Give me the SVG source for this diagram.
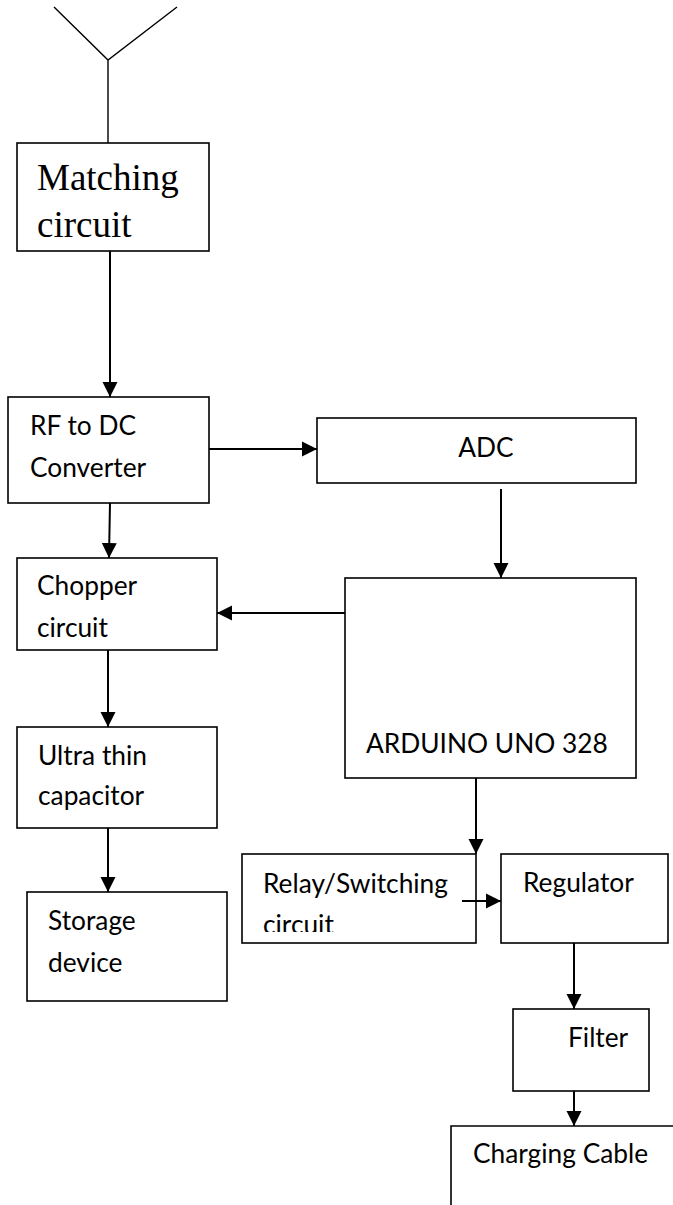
<svg xmlns="http://www.w3.org/2000/svg" width="673" height="1205" viewBox="0 0 673 1205">
<style>
.box{fill:#fff;stroke:#000;stroke-width:1.6}
.t{font-family:Lato,"Liberation Sans",sans-serif;font-size:26.3px;fill:#000}
.ts{font-family:"Liberation Serif","Times New Roman",serif;font-size:37px;fill:#000}
.c{fill:none;stroke:#000;stroke-width:2}
.a{fill:none;stroke:#000;stroke-width:1.4}
</style>
<defs>
<marker id="ah" markerUnits="userSpaceOnUse" markerWidth="16" markerHeight="16" refX="15" refY="8" orient="auto">
<path d="M0,0.5 L15,8 L0,15.5 z" fill="#000"/>
</marker>
<clipPath id="relayclip"><rect x="242" y="854" width="234" height="78"/></clipPath>
</defs>
<rect width="673" height="1205" fill="#fff"/>
<g id="antenna">
<path class="a" d="M54,7 L108,60 L177,7 M108,60 L108,143"/>
</g>
<g id="matching">
<rect class="box" x="17" y="143" width="192" height="108"/>
<text class="ts" x="37" y="190">Matching</text>
<text class="ts" x="37" y="237">circuit</text>
</g>
<g id="rfdc">
<rect class="box" x="8" y="397" width="201" height="106"/>
<text class="t" x="30" y="435">RF to DC</text>
<text class="t" x="30" y="477">Converter</text>
</g>
<g id="adc">
<rect class="box" x="317" y="418" width="319" height="65"/>
<text class="t" x="486" y="457" text-anchor="middle">ADC</text>
</g>
<g id="chopper">
<rect class="box" x="17" y="558" width="200" height="92"/>
<text class="t" x="37" y="595">Chopper</text>
<text class="t" x="37" y="637">circuit</text>
</g>
<g id="arduino">
<rect class="box" x="345" y="578" width="291" height="200"/>
<text class="t" x="366" y="753">ARDUINO UNO 328</text>
</g>
<g id="ultra">
<rect class="box" x="17" y="727" width="200" height="101"/>
<text class="t" x="38" y="765">Ultra thin</text>
<text class="t" x="38" y="805">capacitor</text>
</g>
<g id="storage">
<rect class="box" x="27" y="892" width="200" height="109"/>
<text class="t" x="48" y="930">Storage</text>
<text class="t" x="48" y="972">device</text>
</g>
<g id="relay">
<rect class="box" x="242" y="854" width="234" height="89"/>
<text class="t" x="263" y="893">Relay/Switching</text>
<text class="t" x="263" y="934" clip-path="url(#relayclip)">circuit</text>
</g>
<g id="regulator">
<rect class="box" x="501" y="854" width="167" height="89"/>
<text class="t" x="523" y="892">Regulator</text>
</g>
<g id="filter">
<rect class="box" x="513" y="1009" width="136" height="82"/>
<text class="t" x="568" y="1047">Filter</text>
</g>
<g id="charging">
<path class="box" d="M451,1206 L451,1126 L674,1126" fill="none"/>
<text class="t" x="473" y="1163">Charging Cable</text>
</g>
<g id="connectors">
<path class="c" d="M110,251 L110,397" marker-end="url(#ah)"/>
<path class="c" d="M209,449 L317,449" marker-end="url(#ah)"/>
<path class="c" d="M110,503 L109,558" marker-end="url(#ah)"/>
<path class="c" d="M501,489 L501,578" marker-end="url(#ah)"/>
<path class="c" d="M345,613 L217,613" marker-end="url(#ah)"/>
<path class="c" d="M108,650 L108,727" marker-end="url(#ah)"/>
<path class="c" d="M108,828 L108,892" marker-end="url(#ah)"/>
<path class="c" d="M476,778 L476,854" marker-end="url(#ah)"/>
<path class="c" d="M462,901 L501,901" marker-end="url(#ah)"/>
<path class="c" d="M574,943 L574,1009" marker-end="url(#ah)"/>
<path class="c" d="M574,1091 L574,1126" marker-end="url(#ah)"/>
</g>
</svg>
